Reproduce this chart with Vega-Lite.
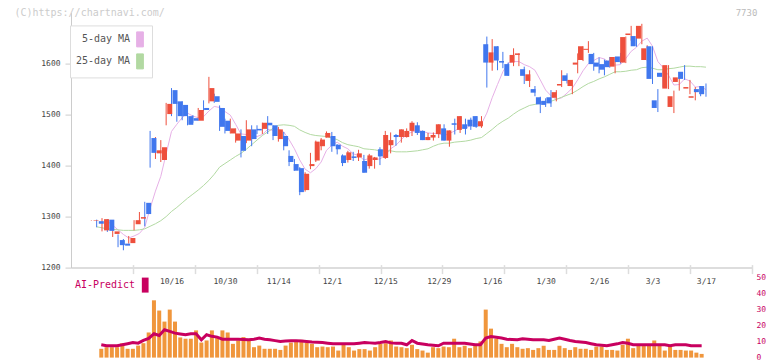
{
  "$schema": "https://vega.github.io/schema/vega-lite/v6.json",
  "background": "white",
  "padding": {"left": 14, "top": 7.6, "right": 0, "bottom": 0},
  "autosize": {"type": "pad"},
  "config": {
    "view": {"stroke": null},
    "font": "DejaVu Sans Mono",
    "axis": {"labelFont": "DejaVu Sans Mono", "titleFont": "DejaVu Sans Mono"},
    "legend": {"labelFont": "DejaVu Sans Mono"}
  },
  "data": {"values": [
    {"i":0,"d":"9/24","o":1292,"h":1293,"l":1292,"c":1293,"v":null,"ai":null,"m5":null,"m25":null},
    {"i":1,"d":"9/25","o":1291,"h":1294,"l":1279,"c":1286,"v":5.5,"ai":8.0,"m5":null,"m25":1280},
    {"i":2,"d":"9/26","o":1273,"h":1297,"l":1271,"c":1295,"v":6.5,"ai":7.4,"m5":null,"m25":1278},
    {"i":3,"d":"9/29","o":1294,"h":1295,"l":1270,"c":1272,"v":6.5,"ai":7.4,"m5":1291,"m25":1276},
    {"i":4,"d":"9/30","o":1266,"h":1281,"l":1260,"c":1271,"v":6.5,"ai":7.4,"m5":1283,"m25":1275},
    {"i":5,"d":"10/1","o":1254,"h":1265,"l":1240,"c":1244,"v":9.0,"ai":8.0,"m5":1274,"m25":1274},
    {"i":6,"d":"10/2","o":1247,"h":1256,"l":1234,"c":1243,"v":5.5,"ai":8.7,"m5":1265,"m25":1273},
    {"i":7,"d":"10/3","o":1248,"h":1262,"l":1247,"c":1258,"v":5.5,"ai":9.4,"m5":1258,"m25":1273},
    {"i":8,"d":"10/6","o":1285,"h":1293,"l":1273,"c":1293,"v":7.5,"ai":9.0,"m5":1262,"m25":1273},
    {"i":9,"d":"10/7","o":1296,"h":1309,"l":1289,"c":1299,"v":9.0,"ai":10.7,"m5":1267,"m25":1274},
    {"i":10,"d":"10/8","o":1327,"h":1329,"l":1281,"c":1305,"v":15.7,"ai":12.0,"m5":1279,"m25":1276},
    {"i":11,"d":"10/9","o":1454,"h":1468,"l":1396,"c":1425,"v":35.8,"ai":14.9,"m5":1316,"m25":1281},
    {"i":12,"d":"10/10","o":1424,"h":1456,"l":1413,"c":1430,"v":29.4,"ai":13.8,"m5":1350,"m25":1286},
    {"i":13,"d":"10/14","o":1411,"h":1450,"l":1407,"c":1436,"v":22.5,"ai":17.4,"m5":1379,"m25":1292},
    {"i":14,"d":"10/15","o":1501,"h":1523,"l":1479,"c":1521,"v":30.0,"ai":16.4,"m5":1423,"m25":1300},
    {"i":15,"d":"10/16","o":1548,"h":1552,"l":1497,"c":1521,"v":22.5,"ai":15.3,"m5":1467,"m25":1310},
    {"i":16,"d":"10/17","o":1526,"h":1526,"l":1486,"c":1497,"v":12.6,"ai":14.8,"m5":1481,"m25":1318},
    {"i":17,"d":"10/20","o":1519,"h":1526,"l":1489,"c":1497,"v":11.8,"ai":14.3,"m5":1494,"m25":1327},
    {"i":18,"d":"10/21","o":1497,"h":1505,"l":1479,"c":1480,"v":11.8,"ai":14.9,"m5":1503,"m25":1336},
    {"i":19,"d":"10/22","o":1493,"h":1499,"l":1484,"c":1488,"v":17.0,"ai":14.9,"m5":1497,"m25":1344},
    {"i":20,"d":"10/23","o":1488,"h":1513,"l":1488,"c":1509,"v":9.4,"ai":11.1,"m5":1494,"m25":1352},
    {"i":21,"d":"10/24","o":1513,"h":1528,"l":1507,"c":1509,"v":10.7,"ai":14.3,"m5":1496,"m25":1361},
    {"i":22,"d":"10/27","o":1526,"h":1574,"l":1522,"c":1552,"v":17.0,"ai":13.3,"m5":1507,"m25":1371},
    {"i":23,"d":"10/28","o":1536,"h":1541,"l":1523,"c":1525,"v":12.8,"ai":12.8,"m5":1516,"m25":1383},
    {"i":24,"d":"10/29","o":1513,"h":1518,"l":1468,"c":1476,"v":17.0,"ai":11.5,"m5":1514,"m25":1397},
    {"i":25,"d":"10/30","o":1488,"h":1492,"l":1463,"c":1468,"v":15.7,"ai":11.5,"m5":1506,"m25":1404},
    {"i":26,"d":"10/31","o":1463,"h":1492,"l":1463,"c":1473,"v":8.6,"ai":11.5,"m5":1499,"m25":1411},
    {"i":27,"d":"11/4","o":1449,"h":1473,"l":1445,"c":1463,"v":10.7,"ai":11.5,"m5":1481,"m25":1418},
    {"i":28,"d":"11/5","o":1458,"h":1471,"l":1416,"c":1429,"v":12.8,"ai":11.3,"m5":1462,"m25":1424},
    {"i":29,"d":"11/6","o":1449,"h":1489,"l":1444,"c":1471,"v":10.7,"ai":11.1,"m5":1461,"m25":1432},
    {"i":30,"d":"11/7","o":1471,"h":1479,"l":1438,"c":1452,"v":6.5,"ai":11.5,"m5":1458,"m25":1441},
    {"i":31,"d":"11/10","o":1472,"h":1479,"l":1462,"c":1469,"v":7.5,"ai":12.2,"m5":1457,"m25":1450},
    {"i":32,"d":"11/11","o":1472,"h":1484,"l":1462,"c":1484,"v":5.5,"ai":11.5,"m5":1461,"m25":1459},
    {"i":33,"d":"11/12","o":1484,"h":1497,"l":1462,"c":1479,"v":5.5,"ai":11.1,"m5":1471,"m25":1466},
    {"i":34,"d":"11/13","o":1479,"h":1479,"l":1450,"c":1458,"v":5.5,"ai":10.6,"m5":1469,"m25":1473},
    {"i":35,"d":"11/14","o":1452,"h":1476,"l":1447,"c":1471,"v":4.8,"ai":10.1,"m5":1472,"m25":1479},
    {"i":36,"d":"11/17","o":1458,"h":1466,"l":1430,"c":1438,"v":7.5,"ai":10.3,"m5":1466,"m25":1480},
    {"i":37,"d":"11/18","o":1419,"h":1430,"l":1399,"c":1407,"v":9.4,"ai":10.5,"m5":1451,"m25":1479},
    {"i":38,"d":"11/19","o":1403,"h":1413,"l":1390,"c":1390,"v":10.7,"ai":10.5,"m5":1433,"m25":1477},
    {"i":39,"d":"11/20","o":1395,"h":1397,"l":1342,"c":1348,"v":11.1,"ai":10.3,"m5":1411,"m25":1470},
    {"i":40,"d":"11/21","o":1352,"h":1387,"l":1349,"c":1384,"v":9.4,"ai":10.1,"m5":1393,"m25":1465},
    {"i":41,"d":"11/25","o":1399,"h":1425,"l":1393,"c":1403,"v":8.6,"ai":9.8,"m5":1386,"m25":1461},
    {"i":42,"d":"11/26","o":1410,"h":1449,"l":1407,"c":1447,"v":6.5,"ai":9.6,"m5":1394,"m25":1459},
    {"i":43,"d":"11/27","o":1438,"h":1454,"l":1430,"c":1451,"v":6.9,"ai":9.4,"m5":1407,"m25":1458},
    {"i":44,"d":"11/28","o":1455,"h":1467,"l":1455,"c":1464,"v":6.5,"ai":9.0,"m5":1430,"m25":1457},
    {"i":45,"d":"12/1","o":1458,"h":1466,"l":1427,"c":1438,"v":6.9,"ai":8.6,"m5":1440,"m25":1454},
    {"i":46,"d":"12/2","o":1441,"h":1442,"l":1422,"c":1432,"v":4.4,"ai":8.6,"m5":1446,"m25":1451},
    {"i":47,"d":"12/3","o":1420,"h":1422,"l":1399,"c":1405,"v":8.0,"ai":8.6,"m5":1438,"m25":1445},
    {"i":48,"d":"12/4","o":1411,"h":1429,"l":1406,"c":1426,"v":6.5,"ai":8.6,"m5":1433,"m25":1441},
    {"i":49,"d":"12/5","o":1418,"h":1427,"l":1409,"c":1415,"v":4.4,"ai":8.6,"m5":1423,"m25":1439},
    {"i":50,"d":"12/8","o":1416,"h":1431,"l":1409,"c":1424,"v":5.3,"ai":9.0,"m5":1420,"m25":1437},
    {"i":51,"d":"12/9","o":1409,"h":1421,"l":1386,"c":1386,"v":5.3,"ai":9.4,"m5":1411,"m25":1433},
    {"i":52,"d":"12/10","o":1399,"h":1423,"l":1394,"c":1420,"v":4.4,"ai":9.2,"m5":1414,"m25":1432},
    {"i":53,"d":"12/11","o":1411,"h":1417,"l":1394,"c":1416,"v":6.5,"ai":9.0,"m5":1412,"m25":1431},
    {"i":54,"d":"12/12","o":1432,"h":1436,"l":1401,"c":1418,"v":8.5,"ai":9.4,"m5":1413,"m25":1429},
    {"i":55,"d":"12/15","o":1415,"h":1468,"l":1413,"c":1460,"v":9.0,"ai":10.1,"m5":1420,"m25":1429},
    {"i":56,"d":"12/16","o":1440,"h":1465,"l":1424,"c":1450,"v":10.7,"ai":9.2,"m5":1433,"m25":1429},
    {"i":57,"d":"12/17","o":1460,"h":1462,"l":1439,"c":1456,"v":6.9,"ai":9.0,"m5":1440,"m25":1427},
    {"i":58,"d":"12/18","o":1456,"h":1471,"l":1445,"c":1471,"v":6.5,"ai":9.0,"m5":1451,"m25":1427},
    {"i":59,"d":"12/19","o":1456,"h":1473,"l":1455,"c":1468,"v":5.9,"ai":8.0,"m5":1461,"m25":1427},
    {"i":60,"d":"12/22","o":1468,"h":1487,"l":1458,"c":1484,"v":8.0,"ai":10.7,"m5":1466,"m25":1428},
    {"i":61,"d":"12/23","o":1479,"h":1485,"l":1460,"c":1464,"v":5.3,"ai":9.0,"m5":1469,"m25":1429},
    {"i":62,"d":"12/24","o":1468,"h":1469,"l":1450,"c":1450,"v":4.4,"ai":8.5,"m5":1467,"m25":1431},
    {"i":63,"d":"12/25","o":1450,"h":1464,"l":1450,"c":1456,"v":3.1,"ai":8.0,"m5":1464,"m25":1433},
    {"i":64,"d":"12/26","o":1455,"h":1465,"l":1449,"c":1460,"v":6.5,"ai":7.7,"m5":1463,"m25":1438},
    {"i":65,"d":"12/29","o":1462,"h":1481,"l":1454,"c":1481,"v":5.9,"ai":7.4,"m5":1462,"m25":1442},
    {"i":66,"d":"12/30","o":1473,"h":1481,"l":1449,"c":1449,"v":6.9,"ai":9.0,"m5":1459,"m25":1444},
    {"i":67,"d":"1/5","o":1449,"h":1469,"l":1437,"c":1469,"v":6.5,"ai":9.0,"m5":1463,"m25":1444},
    {"i":68,"d":"1/6","o":1483,"h":1492,"l":1461,"c":1480,"v":11.8,"ai":9.0,"m5":1468,"m25":1446},
    {"i":69,"d":"1/7","o":1470,"h":1497,"l":1464,"c":1497,"v":6.5,"ai":9.0,"m5":1475,"m25":1447},
    {"i":70,"d":"1/8","o":1481,"h":1492,"l":1461,"c":1472,"v":7.4,"ai":9.0,"m5":1473,"m25":1448},
    {"i":71,"d":"1/9","o":1490,"h":1494,"l":1470,"c":1477,"v":5.9,"ai":8.5,"m5":1479,"m25":1450},
    {"i":72,"d":"1/13","o":1497,"h":1497,"l":1474,"c":1476,"v":7.4,"ai":8.0,"m5":1481,"m25":1453},
    {"i":73,"d":"1/14","o":1477,"h":1497,"l":1474,"c":1487,"v":10.1,"ai":8.0,"m5":1482,"m25":1455},
    {"i":74,"d":"1/15","o":1638,"h":1653,"l":1553,"c":1602,"v":30.0,"ai":12.2,"m5":1503,"m25":1463},
    {"i":75,"d":"1/16","o":1602,"h":1648,"l":1586,"c":1622,"v":18.1,"ai":13.2,"m5":1533,"m25":1471},
    {"i":76,"d":"1/19","o":1634,"h":1634,"l":1587,"c":1606,"v":11.8,"ai":12.7,"m5":1559,"m25":1480},
    {"i":77,"d":"1/20","o":1605,"h":1623,"l":1591,"c":1602,"v":8.6,"ai":12.2,"m5":1584,"m25":1487},
    {"i":78,"d":"1/21","o":1599,"h":1602,"l":1576,"c":1576,"v":6.5,"ai":11.5,"m5":1601,"m25":1493},
    {"i":79,"d":"1/22","o":1602,"h":1630,"l":1595,"c":1617,"v":8.6,"ai":11.3,"m5":1604,"m25":1501},
    {"i":80,"d":"1/23","o":1617,"h":1620,"l":1595,"c":1620,"v":6.5,"ai":11.1,"m5":1604,"m25":1508},
    {"i":81,"d":"1/26","o":1589,"h":1594,"l":1560,"c":1576,"v":5.5,"ai":11.8,"m5":1598,"m25":1513},
    {"i":82,"d":"1/27","o":1566,"h":1587,"l":1554,"c":1579,"v":5.9,"ai":11.5,"m5":1594,"m25":1518},
    {"i":83,"d":"1/28","o":1550,"h":1556,"l":1536,"c":1543,"v":4.8,"ai":11.1,"m5":1587,"m25":1520},
    {"i":84,"d":"1/29","o":1534,"h":1535,"l":1503,"c":1520,"v":5.9,"ai":11.1,"m5":1568,"m25":1523},
    {"i":85,"d":"1/30","o":1527,"h":1532,"l":1515,"c":1519,"v":7.4,"ai":11.1,"m5":1548,"m25":1524},
    {"i":86,"d":"2/2","o":1534,"h":1548,"l":1515,"c":1522,"v":4.8,"ai":10.7,"m5":1537,"m25":1526},
    {"i":87,"d":"2/3","o":1533,"h":1548,"l":1526,"c":1544,"v":4.8,"ai":11.5,"m5":1530,"m25":1530},
    {"i":88,"d":"2/4","o":1557,"h":1587,"l":1554,"c":1560,"v":7.4,"ai":12.2,"m5":1533,"m25":1534},
    {"i":89,"d":"2/5","o":1577,"h":1581,"l":1561,"c":1566,"v":5.9,"ai":11.5,"m5":1542,"m25":1538},
    {"i":90,"d":"2/6","o":1556,"h":1568,"l":1540,"c":1568,"v":4.8,"ai":10.7,"m5":1552,"m25":1542},
    {"i":91,"d":"2/9","o":1598,"h":1620,"l":1581,"c":1602,"v":6.5,"ai":10.1,"m5":1568,"m25":1548},
    {"i":92,"d":"2/10","o":1607,"h":1634,"l":1605,"c":1634,"v":5.5,"ai":9.8,"m5":1586,"m25":1555},
    {"i":93,"d":"2/12","o":1627,"h":1644,"l":1621,"c":1629,"v":5.5,"ai":9.4,"m5":1600,"m25":1561},
    {"i":94,"d":"2/13","o":1619,"h":1621,"l":1586,"c":1599,"v":4.8,"ai":8.7,"m5":1606,"m25":1565},
    {"i":95,"d":"2/16","o":1602,"h":1612,"l":1581,"c":1594,"v":6.9,"ai":8.0,"m5":1612,"m25":1570},
    {"i":96,"d":"2/17","o":1599,"h":1608,"l":1577,"c":1588,"v":6.9,"ai":7.7,"m5":1609,"m25":1574},
    {"i":97,"d":"2/18","o":1606,"h":1613,"l":1592,"c":1593,"v":4.8,"ai":7.4,"m5":1601,"m25":1579},
    {"i":98,"d":"2/19","o":1594,"h":1613,"l":1581,"c":1613,"v":4.8,"ai":8.0,"m5":1597,"m25":1584},
    {"i":99,"d":"2/20","o":1614,"h":1621,"l":1600,"c":1603,"v":4.4,"ai":8.6,"m5":1598,"m25":1584},
    {"i":100,"d":"2/24","o":1602,"h":1653,"l":1601,"c":1652,"v":8.0,"ai":9.4,"m5":1610,"m25":1585},
    {"i":101,"d":"2/25","o":1656,"h":1674,"l":1645,"c":1659,"v":11.8,"ai":9.0,"m5":1624,"m25":1587},
    {"i":102,"d":"2/26","o":1654,"h":1654,"l":1633,"c":1634,"v":5.9,"ai":8.0,"m5":1632,"m25":1588},
    {"i":103,"d":"2/27","o":1649,"h":1678,"l":1638,"c":1674,"v":7.4,"ai":8.0,"m5":1644,"m25":1592},
    {"i":104,"d":"3/2","o":1607,"h":1636,"l":1606,"c":1630,"v":7.4,"ai":8.0,"m5":1650,"m25":1593},
    {"i":105,"d":"3/3","o":1634,"h":1634,"l":1560,"c":1570,"v":7.4,"ai":8.0,"m5":1634,"m25":1591},
    {"i":106,"d":"3/4","o":1528,"h":1550,"l":1505,"c":1513,"v":10.7,"ai":8.0,"m5":1604,"m25":1588},
    {"i":107,"d":"3/5","o":1582,"h":1586,"l":1554,"c":1574,"v":7.4,"ai":8.0,"m5":1592,"m25":1588},
    {"i":108,"d":"3/6","o":1551,"h":1597,"l":1550,"c":1597,"v":4.4,"ai":8.0,"m5":1577,"m25":1590},
    {"i":109,"d":"3/9","o":1515,"h":1547,"l":1503,"c":1536,"v":7.4,"ai":7.4,"m5":1558,"m25":1591},
    {"i":110,"d":"3/10","o":1564,"h":1575,"l":1547,"c":1573,"v":4.8,"ai":8.0,"m5":1559,"m25":1593},
    {"i":111,"d":"3/11","o":1584,"h":1597,"l":1568,"c":1570,"v":4.8,"ai":8.0,"m5":1570,"m25":1595},
    {"i":112,"d":"3/12","o":1551,"h":1568,"l":1540,"c":1554,"v":4.4,"ai":8.0,"m5":1566,"m25":1595},
    {"i":113,"d":"3/13","o":1533,"h":1554,"l":1528,"c":1536,"v":4.4,"ai":7.4,"m5":1554,"m25":1594},
    {"i":114,"d":"3/16","o":1550,"h":1556,"l":1536,"c":1544,"v":3.1,"ai":7.4,"m5":1555,"m25":1594},
    {"i":115,"d":"3/17","o":1556,"h":1561,"l":1535,"c":1540,"v":2.3,"ai":7.4,"m5":1549,"m25":1593}
  ]},
  "bounds": "flush",
  "spacing": 10,
  "resolve": {"scale": {"color": "independent"}, "legend": {"color": "independent"}},
  "vconcat": [
    {
      "width": 681,
      "height": 255,
      "resolve": {"scale": {"x": "independent"}, "axis": {"x": "independent"}},
      "layer": [
        {
          "mark": {"type": "line", "strokeWidth": 1},
          "encoding": {
            "x": {
              "field": "i", "type": "quantitative",
              "scale": {"domain": [-3.8, 123.61], "nice": false, "zero": false},
              "axis": {
                "orient": "bottom",
                "values": [15, 25, 35, 45, 55, 65, 75, 85, 95, 105, 115],
                "labelExpr": "['10/16','10/30','11/14','12/1','12/15','12/29','1/16','1/30','2/16','3/3','3/17'][round((datum.value - 15) / 10)]",
                "ticks": false, "tickSize": 0, "grid": false, "title": null,
                "domainColor": "#dddddd", "domainWidth": 2,
                "labelFontSize": 8, "labelColor": "#444444", "labelPadding": 10,
                "labelFlush": false, "labelOverlap": false
              }
            },
            "y": {"field": "m5", "type": "quantitative", "scale": {"domain": [1200, 1700], "nice": false, "zero": false},
              "axis": {
                "values": [1200, 1300, 1400, 1500, 1600], "format": "d", "grid": false,
                "domainColor": "#cccccc", "tickColor": "#cccccc", "tickSize": 6,
                "labelFontSize": 8, "labelColor": "#444444", "labelPadding": 5, "labelOverlap": false,
                "title": "(C)https://chartnavi.com/", "titleAngle": 0, "titleX": -57, "titleY": 0,
                "titleAlign": "left", "titleBaseline": "middle", "titleFontSize": 10,
                "titleFontWeight": "normal", "titleColor": "#cccccc"
              }},
            "color": {"datum": "5-day MA", "type": "nominal",
              "scale": {"domain": ["5-day MA", "25-day MA"], "range": ["#e6b0e6", "#b2d9a2"]},
              "legend": {
                "orient": "none", "legendX": -1, "legendY": 12.8, "title": null,
                "padding": 6, "fillColor": "white", "strokeColor": "#dddddd",
                "symbolType": "M-0.45,-1H0.45V1H-0.45Z", "symbolSize": 225,
                "symbolOffset": 56, "labelOffset": -18, "labelAlign": "right",
                "labelFontSize": 10, "labelColor": "#555555", "rowPadding": 2,
                "encode": {"symbols": {"update": {
                  "fill": {"signal": "datum.value === '5-day MA' ? '#e6b0e6' : '#b2d9a2'"},
                  "stroke": {"value": "#666666"}, "strokeWidth": {"value": 1}, "opacity": {"value": 1}
                }}}
              }}
          }
        },
        {
          "mark": {"type": "line", "strokeWidth": 1},
          "encoding": {
            "x": {
              "field": "i", "type": "quantitative",
              "scale": {"domain": [-3.8, 123.61], "nice": false, "zero": false},
              "axis": {
                "orient": "bottom",
                "values": [7.783, 19.366, 30.949, 42.532, 54.115, 65.698, 77.281, 88.864, 100.447, 112.03, 123.61],
                "labels": false, "domain": false, "grid": false, "title": null,
                "ticks": true, "tickSize": 9, "tickWidth": 1.5, "tickColor": "#dddddd", "offset": -3
              }
            },
            "y": {"field": "m25", "type": "quantitative", "scale": {"domain": [1200, 1700], "nice": false, "zero": false}},
            "color": {"datum": "25-day MA", "type": "nominal"}
          }
        },
        {
          "mark": {"type": "rule", "strokeWidth": 1},
          "encoding": {
            "x": {"field": "i", "type": "quantitative", "scale": {"domain": [-3.8, 123.61], "nice": false, "zero": false}, "axis": null},
            "y": {"field": "l", "type": "quantitative", "scale": {"domain": [1200, 1700], "nice": false, "zero": false}},
            "y2": {"field": "h"},
            "color": {"condition": {"test": "datum.c >= datum.o", "value": "#ee4f3c"}, "value": "#4077ee"}
          }
        },
        {
          "mark": {"type": "bar", "width": 5},
          "encoding": {
            "x": {"field": "i", "type": "quantitative", "scale": {"domain": [-3.8, 123.61], "nice": false, "zero": false}, "axis": null},
            "y": {"field": "o", "type": "quantitative", "scale": {"domain": [1200, 1700], "nice": false, "zero": false}},
            "y2": {"field": "c"},
            "color": {"condition": {"test": "datum.c >= datum.o", "value": "#ee4f3c"}, "value": "#4077ee"}
          }
        }
      ]
    },
    {
      "width": 681,
      "height": 80,
      "encoding": {
        "x": {"field": "i", "type": "quantitative", "scale": {"domain": [-3.8, 123.61], "nice": false, "zero": false}, "axis": null}
      },
      "layer": [
        {
          "mark": {"type": "bar", "width": 4, "color": "#f0963c"},
          "encoding": {
            "y": {"field": "v", "type": "quantitative", "scale": {"domain": [0, 50], "nice": false},
              "axis": {
                "orient": "right", "values": [0, 10, 20, 30, 40, 50], "grid": false,
                "domain": false, "ticks": false, "labelPadding": 4, "labelOverlap": false,
                "labelFontSize": 8, "labelColor": "#c8005f",
                "title": "7730", "titleAngle": 0, "titleX": -6, "titleY": -265.2,
                "titleAlign": "center", "titleBaseline": "middle", "titleFontSize": 9,
                "titleFontWeight": "normal", "titleColor": "#bbbbbb"
              }}
          }
        },
        {
          "mark": {"type": "line", "strokeWidth": 3},
          "encoding": {
            "y": {"field": "ai", "type": "quantitative", "scale": {"domain": [0, 50], "nice": false},
              "axis": {
                "orient": "right", "values": [0, 10, 20, 30, 40, 50], "grid": false,
                "domain": false, "ticks": false, "labelPadding": 4, "labelOverlap": false,
                "labelFontSize": 8, "labelColor": "#c8005f",
                "title": "7730", "titleAngle": 0, "titleX": -6, "titleY": -265.2,
                "titleAlign": "center", "titleBaseline": "middle", "titleFontSize": 9,
                "titleFontWeight": "normal", "titleColor": "#bbbbbb"
              }},
            "color": {"datum": "AI-Predict", "type": "nominal",
              "scale": {"domain": ["AI-Predict"], "range": ["#c8005f"]},
              "legend": {
                "orient": "none", "legendX": 0, "legendY": 0, "title": null, "padding": 0,
                "symbolType": "M-0.45,-1H0.45V1H-0.45Z", "symbolSize": 225,
                "symbolOffset": 66.7, "labelOffset": -17.7, "labelAlign": "right",
                "labelFontSize": 10, "labelColor": "#c8005f",
                "encode": {"symbols": {"update": {
                  "fill": {"value": "#c8005f"}, "stroke": {"value": "#c8005f"}, "strokeWidth": {"value": 0}, "opacity": {"value": 1}
                }}}
              }}
          }
        }
      ]
    }
  ]
}
